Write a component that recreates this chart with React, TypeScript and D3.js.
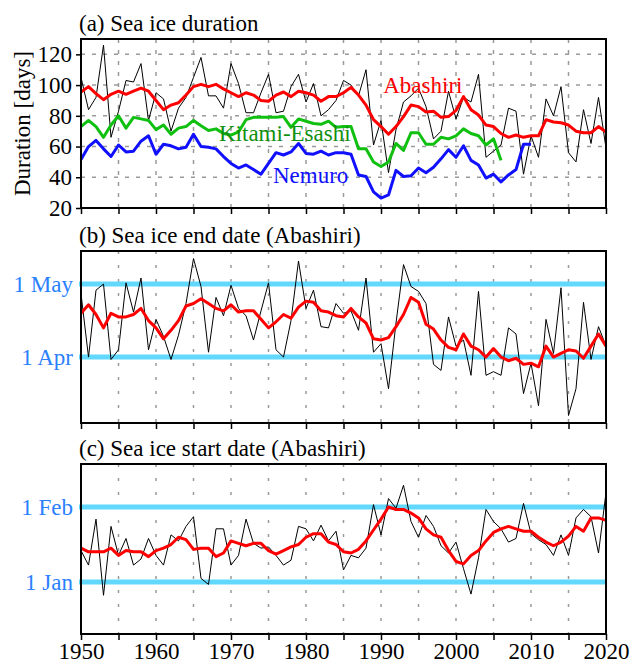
import React, { useEffect, useRef } from 'react';
import * as d3 from 'd3';

const years = d3.range(1950, 2021);
const yearTicks = d3.range(1950, 2021, 5);
const yearLabels = [1950, 1960, 1970, 1980, 1990, 2000, 2010, 2020];

// (a) sea ice duration [days], 1950-2020
const abashiriDuration = [
  105, 84, 92, 126, 66, 83, 103, 102, 114, 77,
  95, 91, 70, 85, 92, 105, 118, 93, 93, 85,
  114, 101, 82, 82, 95, 107, 82, 83, 99, 107,
  89, 101, 80, 84, 90, 103, 100, 93, 110, 61,
  77, 43, 71, 89, 93, 98, 86, 65, 70, 96,
  78, 92, 89, 107, 53, 57, 61, 85, 83, 42,
  67, 53, 91, 80, 99, 56, 50, 84, 62, 92, 59,
];
const abashiriSmooth = [
  95.5, 99, 94.5, 90.5, 94, 96, 94, 96, 98, 96,
  90, 84, 87, 88.5, 93.5, 99, 100.5, 99, 100.5, 97.5,
  95, 92.5, 95, 93.5, 90, 89.5, 93.5, 95.5, 92.5, 96,
  95, 93.5, 89.5, 92.5, 92.5, 95, 98.5, 93.5, 87, 77.5,
  73, 68, 73, 79.5, 87, 86, 82.5, 83, 79, 79.5,
  83.5, 92.5, 84, 80.5, 74, 73, 68.5, 66, 67.5, 66,
  67, 67, 77.5, 76, 75.5, 74, 70, 69, 69, 73, 69.5,
];
// Kitami-Esashi, 1950-2006
const kitamiSmooth = [
  73, 77, 73, 66, 74, 80, 72, 79, 78, 77,
  71, 74, 68, 72, 73, 77, 73.5, 70.5, 71.5, 68.5,
  67.5, 69.5, 77.5, 79, 79, 79, 79, 79.5, 72.5, 78,
  76.5, 75, 74.5, 76.5, 72.5, 73, 73, 58.5, 58.5, 50,
  47, 50, 62, 57.5, 69, 69, 61.5, 61.5, 66, 65,
  67, 71.5, 68.5, 67, 61, 65, 51,
];
// Nemuro, 1950-2010
const nemuroSmooth = [
  51.5, 60, 64, 58.5, 53.5, 61, 56.5, 57, 63.5, 67,
  55, 61.5, 60.5, 58.5, 59.5, 68, 60, 59.5, 58.5, 53.5,
  49, 46, 48, 45, 42, 49, 56, 54.5, 56.5, 62,
  55.5, 55, 57, 54.5, 56, 56, 55, 41.5, 40.5, 30.5,
  26.5, 28.5, 44.5, 40.5, 41, 46, 43, 46.5, 52, 58,
  53, 60.5, 51, 48, 39.5, 42, 37, 41.5, 45, 61.5, 61.5,
];
const durationTicks = [20, 40, 60, 80, 100, 120];

// (b) sea ice end date, days after 1 April
const endDays = [
  26, 0, 27.5, 30, -1, 3, 30.5, 18.5, 32.5, 3,
  15.5, 8.5, -1, 9, 22, 40.5, 29, 2, 24.5, 17,
  29.5, 20, 17, 7, 19, 30.5, 3, 0, 15, 39.5,
  20, 27.5, 12.5, 12, 22, 18, 19, 11, 32.5, 2,
  5.5, -13, 14, 38, 29, 27, 22, -3, -5.5, 16.5,
  4.5, 7, -7.5, 27, -7.5, -6, -7.5, 12, 9.5, -15,
  -2.5, -20, 15.5, 1.5, 28.5, -24, -13, 22.5, -1, 12.5, 4.5,
];
const endSmooth = [
  18, 21.5, 17.5, 12, 18, 16.5, 16.5, 17.5, 20, 15,
  12, 7.5, 11, 15, 21, 22, 24, 22, 20, 19,
  21.5, 18.5, 19, 19, 15.5, 12, 14.5, 17.5, 16, 20.5,
  23, 22.5, 19, 18.5, 17, 16.5, 20, 16.5, 14, 7.5,
  7, 8, 12.5, 17.5, 24.5, 22.5, 13.5, 11.5, 7, 4,
  3, 9.5, 4.5, 3, 0, 3.5, 0, -1.5, -0.5, -3,
  -2.5, -4, 4.5, 0, 1.5, 3, 2.5, -0.5, 4.5, 9.5, 4.5,
];
const endTicks = [0, 30];
const endTickLabels = ['1 Apr', '1 May'];

// (c) sea ice start date, days after 1 January
const startDays = [
  13, 7, 26, -5.5, 23, 11, 18, 7, 9.5, 18,
  11, 7, 19.5, 17, 23, 27, 1.5, -1, 22, 22,
  7, 11, 26, 16, 14, 14.5, 11, 7, 9, 23,
  22, 17, 23.5, 17, 21, 5, 11, 10, 14, 32,
  19.5, 34.5, 30.5, 40, 25, 18.5, 27.5, 23, 15, 12,
  16.5, 5.5, -5, 10, 30, 25, 22, 16.5, 18, 32.5,
  20, 17.5, 15.5, 11, 19.5, 11, 26.5, 30, 27, 12, 37,
];
const startSmooth = [
  14, 12.5, 12.5, 12.5, 14, 11, 13, 12.5, 12.5, 10.5,
  13, 14, 15.5, 18.5, 17.5, 13.5, 14, 14, 10.5, 12,
  17, 16, 15, 16, 16, 13, 11.5, 13, 14.5, 15.5,
  18.5, 20, 20, 16.5, 15.5, 12.5, 12, 13.5, 17, 21.5,
  26, 31, 30, 30, 28.5, 26.5, 22, 19.5, 18.5, 13,
  8.5, 7.5, 11, 13, 17, 20.5, 22, 23, 22, 21,
  21, 18.5, 16.5, 15, 16.5, 19, 23, 21, 26.5, 26.5, 25.5,
];
const startTicks = [0, 31];
const startTickLabels = ['1 Jan', '1 Feb'];

const font = "'Liberation Serif', 'Times New Roman', Times, serif";
const fontSize = '23px';

const App = () => {
  const ref = useRef<SVGSVGElement>(null);

  useEffect(() => {
    document.body.style.margin = '0';
    const svg = d3.select(ref.current);
    svg.selectAll('*').remove();

    const left = 81;
    const right = 606;
    const x = d3.scaleLinear().domain([1950, 2020]).range([left, right]);

    const styleText = (sel: any, color = '#000') => sel
      .style('font-family', font)
      .style('font-size', fontSize)
      .attr('fill', color);

    const drawPanel = (y: d3.ScaleLinear<number, number>, title: string, dashed: boolean) => {
      const [bottom, top] = y.range();
      const g = svg.append('g');

      // vertical grid
      g.selectAll('.vgrid')
        .data(yearTicks.filter(t => t > 1950 && t < 2020))
        .enter().append('line')
        .attr('x1', d => x(d)).attr('x2', d => x(d))
        .attr('y1', top).attr('y2', bottom)
        .attr('stroke', '#9a9a9a')
        .attr('stroke-width', 1.5)
        .attr('stroke-dasharray', dashed ? '4,7' : '3,11');

      // title
      styleText(g.append('text')
        .attr('x', 79).attr('y', top - 8)
        .text(title));
      return g;
    };

    const drawFrame = (g: any, y: d3.ScaleLinear<number, number>, showYears: boolean) => {
      const [bottom, top] = y.range();
      const xAxis = d3.axisBottom(x)
        .tickValues(yearTicks)
        .tickSize(6)
        .tickPadding(3)
        .tickFormat(d => (showYears && yearLabels.includes(+d) ? String(d) : ''));
      const ax = g.append('g')
        .attr('transform', `translate(0, ${bottom})`)
        .call(xAxis);
      ax.select('.domain').remove();
      ax.selectAll('line').attr('stroke', '#000').attr('stroke-width', 1.5);
      styleText(ax.selectAll('text'));

      g.append('rect')
        .attr('x', left).attr('y', top)
        .attr('width', right - left).attr('height', bottom - top)
        .attr('fill', 'none').attr('stroke', '#000').attr('stroke-width', 2);
    };

    const line = (y: d3.ScaleLinear<number, number>) => d3.line<number | null>()
      .defined(d => d != null)
      .x((d, i) => x(years[i]))
      .y(d => y(d as number));

    const drawSeries = (g: any, y: d3.ScaleLinear<number, number>, data: number[], color: string, width: number) => {
      g.append('path')
        .datum(data)
        .attr('d', line(y))
        .attr('fill', 'none')
        .attr('stroke', color)
        .attr('stroke-width', width)
        .attr('stroke-linejoin', 'round');
    };

    // ---- (a) duration ----
    const ya = d3.scaleLinear().domain([20, 130]).range([208, 39]);
    const ga = drawPanel(ya, '(a) Sea ice duration', true);
    ga.selectAll('.hgrid')
      .data(durationTicks.filter(t => t > 20))
      .enter().append('line')
      .attr('x1', left).attr('x2', right)
      .attr('y1', d => ya(d)).attr('y2', d => ya(d))
      .attr('stroke', '#9a9a9a')
      .attr('stroke-width', 1.5)
      .attr('stroke-dasharray', '4,7');

    drawSeries(ga, ya, abashiriDuration, '#000', 1);
    drawSeries(ga, ya, nemuroSmooth, '#1010ff', 3);
    drawSeries(ga, ya, kitamiSmooth, '#10c010', 3);
    drawSeries(ga, ya, abashiriSmooth, '#ff0000', 3);

    const yAxisA = ga.append('g')
      .attr('transform', `translate(${left}, 0)`)
      .call(d3.axisLeft(ya).tickValues(durationTicks).tickSize(5).tickPadding(4));
    yAxisA.select('.domain').remove();
    yAxisA.selectAll('line').attr('stroke', '#000').attr('stroke-width', 1.5);
    styleText(yAxisA.selectAll('text'));

    styleText(ga.append('text')
      .attr('transform', `translate(30, ${(ya(20) + ya(130)) / 2}) rotate(-90)`)
      .attr('text-anchor', 'middle')
      .text('Duration [days]'));

    const labels = [
      { text: 'Abashiri', year: 1990.3, value: 94.7, color: '#ff0000' },
      { text: 'Kitami-Esashi', year: 1968.4, value: 63.5, color: '#109010' },
      { text: 'Nemuro', year: 1975.6, value: 36.2, color: '#1010ff' },
    ];
    ga.selectAll('.lbl')
      .data(labels)
      .enter().append('text')
      .attr('x', d => x(d.year)).attr('y', d => ya(d.value))
      .style('font-family', font).style('font-size', fontSize)
      .attr('fill', d => d.color)
      .text(d => d.text);

    drawFrame(ga, ya, false);

    // ---- (b), (c) dates ----
    const drawDatePanel = (y: d3.ScaleLinear<number, number>, title: string, ticks: number[], tickLabels: string[],
      raw: number[], smooth: number[], showYears: boolean) => {
      const g = drawPanel(y, title, false);
      g.selectAll('.ref')
        .data(ticks)
        .enter().append('line')
        .attr('x1', left - 2).attr('x2', right + 1)
        .attr('y1', d => y(d)).attr('y2', d => y(d))
        .attr('stroke', '#62d8fc')
        .attr('stroke-width', 5);
      drawSeries(g, y, raw, '#000', 1);
      drawSeries(g, y, smooth, '#ff0000', 3);
      const ay = g.append('g')
        .attr('transform', `translate(${left}, 0)`)
        .call(d3.axisLeft(y).tickValues(ticks).tickSize(0).tickPadding(8)
          .tickFormat((d, i) => tickLabels[i]));
      ay.select('.domain').remove();
      styleText(ay.selectAll('text'), '#2a80ff');
      drawFrame(g, y, showYears);
    };

    const yb = d3.scaleLinear().domain([-27.1, 43.6]).range([423, 251]);
    drawDatePanel(yb, '(b) Sea ice end date (Abashiri)', endTicks, endTickLabels, endDays, endSmooth, false);

    const yc = d3.scaleLinear().domain([-21.5, 48.8]).range([634, 464]);
    drawDatePanel(yc, '(c) Sea ice start date (Abashiri)', startTicks, startTickLabels, startDays, startSmooth, true);
  }, []);

  return <svg ref={ref} width={631} height={664} style={{ display: 'block', background: '#fff' }} />;
};

export default App;
